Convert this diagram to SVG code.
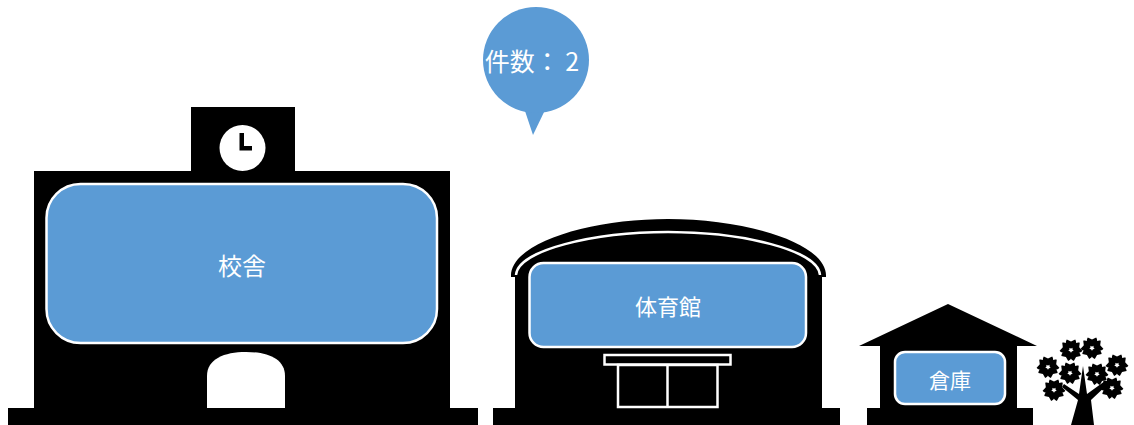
<svg xmlns="http://www.w3.org/2000/svg" width="1134" height="425" viewBox="0 0 1134 425">
  <style>
    .blk { fill: #000; }
    .panel { fill: #5B9BD5; stroke: #fff; stroke-width: 2.5; }
    .label { fill: #fff; font-family: "Noto Sans CJK JP", "Noto Sans", sans-serif; text-anchor: middle; dominant-baseline: central; }
    .wline { fill: none; stroke: #fff; stroke-width: 2.5; }
  </style>
  <defs>
    <!-- one notched cherry petal, pointing up from the flower centre -->
    <path id="petal" d="M0,-1.6 C-4.6,-2.8 -6.4,-7.4 -4.2,-10.6 L0,-8.6 L4.2,-10.6 C6.4,-7.4 4.6,-2.8 0,-1.6 Z"/>
    <g id="blossom">
      <use href="#petal"/>
      <use href="#petal" transform="rotate(72)"/>
      <use href="#petal" transform="rotate(144)"/>
      <use href="#petal" transform="rotate(216)"/>
      <use href="#petal" transform="rotate(288)"/>
    </g>
  </defs>

  <rect width="1134" height="425" fill="#fff"/>

  <!-- school building -->
  <g id="school">
    <rect class="blk" x="8" y="408" width="470" height="17"/>
    <rect class="blk" x="34" y="171" width="416" height="238"/>
    <rect class="blk" x="191" y="107" width="104" height="65"/>
    <circle cx="242.5" cy="148" r="23" fill="#fff"/>
    <path class="blk" d="M239.5,133 H244 V146 H252 V150.5 H239.5 Z"/>
    <rect class="panel" x="46.5" y="184" width="390.5" height="159" rx="34"/>
    <text class="label" x="242" y="264" font-size="24">校舎</text>
    <path d="M207,408 V376 C207,359 224,352 246,352 C268,352 285,359 285,376 V408 Z" fill="#fff"/>
  </g>

  <!-- gymnasium -->
  <g id="gym">
    <rect class="blk" x="493" y="408" width="347" height="17"/>
    <path class="blk" d="M511,277 C509,243 590,219 668,219 C746,219 828,243 826,277 L822,277 L822,409 L515,409 L515,277 Z"/>
    <path class="wline" d="M516,275 C518,250 594,232 668,232 C742,232 818,250 820,275"/>
    <rect class="panel" x="529.5" y="263" width="276.5" height="84" rx="14"/>
    <text class="label" x="668" y="305" font-size="22">体育館</text>
    <rect class="wline" x="604.5" y="355" width="126" height="9.5"/>
    <rect class="wline" x="618" y="365" width="99.5" height="42"/>
    <line class="wline" x1="667.5" y1="365" x2="667.5" y2="407"/>
  </g>

  <!-- storehouse -->
  <g id="storage">
    <rect class="blk" x="867" y="408" width="166" height="17"/>
    <path class="blk" d="M948,304 L1037,346 L1017,346 L1017,409 L880,409 L880,346 L859,346 Z"/>
    <rect class="panel" x="895" y="352" width="110" height="52" rx="10"/>
    <text class="label" x="950" y="379" font-size="21">倉庫</text>
  </g>

  <!-- cherry tree -->
  <g id="tree">
    <path class="blk" d="M1071,425 L1078,400 L1062,387 L1064,384 L1079,394 L1083,366 L1087,394 L1105,381 L1108,384 L1091,400 L1094,425 Z"/>
    <g class="blk">
      <use href="#blossom" x="1071" y="350"/>
      <use href="#blossom" x="1092" y="348"/>
      <use href="#blossom" x="1048" y="367"/>
      <use href="#blossom" x="1070" y="373"/>
      <use href="#blossom" x="1097" y="374"/>
      <use href="#blossom" x="1117" y="365"/>
      <use href="#blossom" x="1054" y="390"/>
      <use href="#blossom" x="1112" y="388"/>
    </g>
  </g>

  <!-- count balloon -->
  <g id="count-bubble">
    <path d="M524,108 L533,135 L546,108 Z" fill="#5B9BD5"/>
    <circle cx="536" cy="60" r="53" fill="#5B9BD5"/>
    <text class="label" x="532" y="60" font-size="25">件数： 2</text>
  </g>
</svg>
